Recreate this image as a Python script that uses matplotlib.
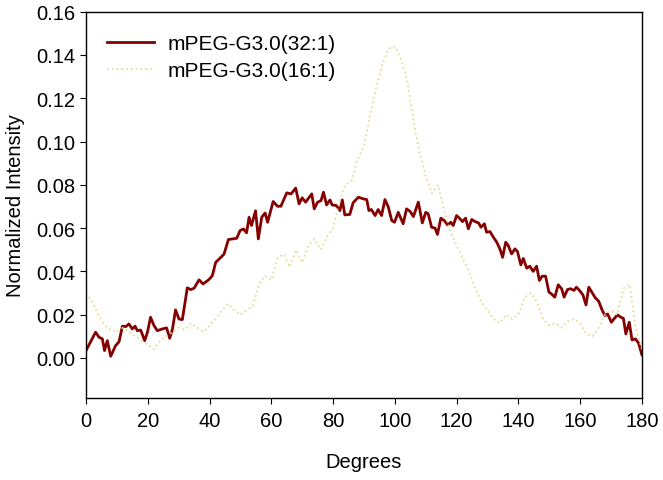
import matplotlib
matplotlib.use("Agg")
import matplotlib.pyplot as plt
import numpy as np

# ------------------------------------------------------------
# data
# ------------------------------------------------------------
deg_32 = [0, 3.1, 4.2, 5.3, 6.0, 6.9, 8.0, 9.6, 10.7, 11.8, 12.9, 13.9, 15.0, 15.9,
          16.6, 17.7, 19.0, 19.9, 20.9, 22.0, 23.1, 24.7, 26.1, 27.1, 28.0, 29.0,
          30.1, 31.2, 32.8, 33.9, 35.0, 36.6, 37.9, 39.8, 40.9, 42.0, 43.1, 44.7,
          46.1, 48.8, 49.9, 51.0, 52.0, 52.8, 53.6, 54.9, 55.8, 56.9, 58.0, 58.8,
          60.6, 62.0, 63.1, 65.0, 66.4, 67.9, 69.0, 70.0, 71.1, 73.1, 73.9, 75.0,
          76.1, 76.9, 77.9, 79.0, 79.7, 81.1, 82.2, 83.0, 83.8, 85.4, 86.5, 88.2,
          89.8, 90.9, 91.6, 92.4, 93.6, 94.6, 95.7, 96.8, 97.9, 99.0, 99.9, 101.1,
          102.7, 103.8, 104.9, 106.0, 107.6, 108.9, 110.0, 110.8, 111.9, 113.0,
          113.8, 114.9, 116.0, 117.1, 118.1, 118.9, 120.0, 121.1, 121.9, 122.9,
          123.8, 124.9, 126.0, 127.1, 127.9, 129.0, 129.7, 130.8, 131.9, 133.0,
          134.0, 134.9, 135.9, 136.7, 137.8, 138.9, 139.7, 140.8, 141.6, 142.7,
          143.7, 144.8, 145.9, 146.8, 147.7, 148.8, 149.9, 150.7, 151.8, 152.9,
          154.0, 154.8, 155.9, 156.9, 158.0, 158.8, 159.8, 160.9, 161.9, 162.8,
          163.9, 164.9, 166.0, 167.1, 168.0, 168.9, 170.1, 171.1, 172.1, 173.2,
          174.0, 174.8, 175.9, 176.8, 177.9, 178.9, 180.0]
int_32 = [0.0034, 0.0119, 0.0096, 0.0088, 0.0034, 0.0080, 0.0008, 0.0057, 0.0075,
          0.0147, 0.0145, 0.0157, 0.0134, 0.0147, 0.0126, 0.0129, 0.0080, 0.0119,
          0.0188, 0.0150, 0.0126, 0.0134, 0.0139, 0.0091, 0.0134, 0.0222, 0.0180,
          0.0177, 0.0324, 0.0316, 0.0322, 0.0361, 0.0342, 0.0362, 0.0380, 0.0442,
          0.0457, 0.0480, 0.0547, 0.0553, 0.0589, 0.0596, 0.0578, 0.0650, 0.0612,
          0.0680, 0.0550, 0.0650, 0.0670, 0.0627, 0.0723, 0.0701, 0.0701, 0.0763,
          0.0758, 0.0785, 0.0712, 0.0740, 0.0720, 0.0758, 0.0689, 0.0720, 0.0727,
          0.0766, 0.0707, 0.0730, 0.0707, 0.0704, 0.0681, 0.0730, 0.0661, 0.0663,
          0.0717, 0.0743, 0.0735, 0.0732, 0.0681, 0.0686, 0.0658, 0.0686, 0.0658,
          0.0732, 0.0697, 0.0635, 0.0627, 0.0673, 0.0620, 0.0689, 0.0678, 0.0653,
          0.0720, 0.0624, 0.0673, 0.0666, 0.0604, 0.0600, 0.0571, 0.0646, 0.0635,
          0.0614, 0.0627, 0.0612, 0.0658, 0.0643, 0.0630, 0.0646, 0.0597, 0.0640,
          0.0630, 0.0624, 0.0604, 0.0620, 0.0581, 0.0584, 0.0558, 0.0535, 0.0504,
          0.0465, 0.0535, 0.0520, 0.0481, 0.0504, 0.0492, 0.0430, 0.0460, 0.0415,
          0.0424, 0.0400, 0.0424, 0.0358, 0.0378, 0.0378, 0.0304, 0.0296, 0.0281,
          0.0338, 0.0320, 0.0281, 0.0316, 0.0320, 0.0312, 0.0327, 0.0312, 0.0291,
          0.0245, 0.0327, 0.0301, 0.0278, 0.0262, 0.0222, 0.0196, 0.0203, 0.0165,
          0.0183, 0.0199, 0.0188, 0.0183, 0.0111, 0.0165, 0.0083, 0.0088, 0.0069,
          0.0014]

deg_16 = list(range(0, 181, 2))
int_16 = [0.030, 0.026, 0.020, 0.015, 0.013, 0.012, 0.014, 0.012, 0.010, 0.008,
          0.006, 0.004, 0.008, 0.010, 0.012, 0.014, 0.013, 0.016, 0.014, 0.012,
          0.015, 0.018, 0.022, 0.025, 0.022, 0.020, 0.022, 0.024, 0.034, 0.038,
          0.036, 0.046, 0.048, 0.042, 0.050, 0.044, 0.052, 0.055, 0.050, 0.056,
          0.060, 0.072, 0.080, 0.082, 0.092, 0.098, 0.112, 0.125, 0.136, 0.143,
          0.144, 0.138, 0.128, 0.110, 0.095, 0.084, 0.076, 0.080, 0.068, 0.058,
          0.052, 0.046, 0.040, 0.032, 0.026, 0.022, 0.018, 0.016, 0.020, 0.018,
          0.020, 0.028, 0.030, 0.026, 0.018, 0.015, 0.016, 0.014, 0.017, 0.018,
          0.016, 0.011, 0.010, 0.014, 0.020, 0.022, 0.020, 0.032, 0.034, 0.014,
          0.004]

x_ticks = np.arange(0, 181, 20)
y_ticks = np.arange(0, 0.161, 0.02)

plt.rcParams.update({
    "font.family": ["Liberation Sans", "DejaVu Sans"],
    "font.size": 14.5,
    "axes.linewidth": 1.0,
    "xtick.direction": "out",
    "ytick.direction": "out",
    "xtick.major.size": 4,
    "ytick.major.size": 4,
    "xtick.major.pad": 5.5,
})

fig = plt.figure(figsize=(6.63, 4.81), dpi=100)
ax = fig.add_axes([0.1297, 0.1705, 0.8385, 0.8031])

ax.plot(deg_32, int_32, color="#850000", lw=2.0, label="mPEG-G3.0(32:1)")
ax.plot(deg_16, int_16, color="#E6DC9A", lw=1.3, ls=":", label="mPEG-G3.0(16:1)")

ax.set_xlim(0, 180)
ax.set_ylim(-0.0185, 0.16)
ax.set_xticks(x_ticks)
ax.set_yticks(y_ticks)
ax.set_yticklabels([f"{v:.2f}" for v in y_ticks])
ax.set_xlabel("Degrees", labelpad=16)
ax.set_ylabel("Normalized Intensity", labelpad=8)

ax.legend(frameon=False, loc="upper left", bbox_to_anchor=(0.037, 0.942),
          borderpad=0, borderaxespad=0, handlelength=2.3, handletextpad=0.62,
          labelspacing=0.4, fontsize=15)

fig.savefig("out.png", dpi=100)
